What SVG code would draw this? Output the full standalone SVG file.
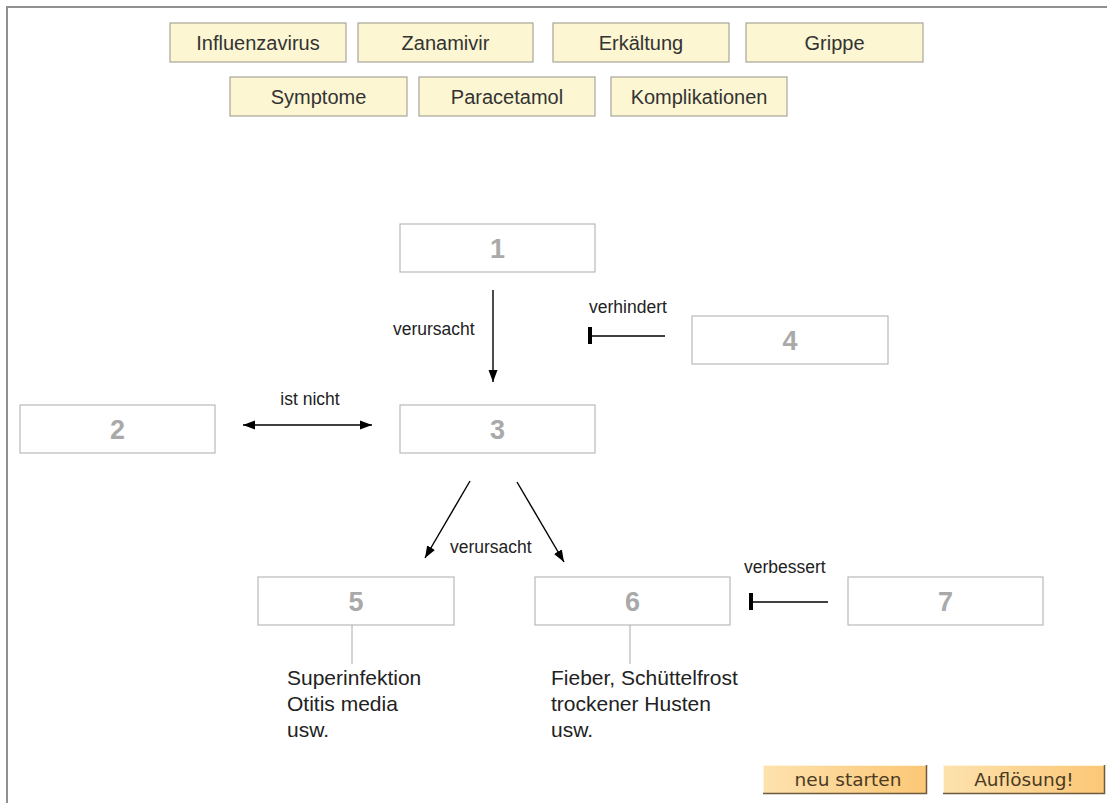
<svg xmlns="http://www.w3.org/2000/svg" width="1107" height="803" viewBox="0 0 1107 803">
  <defs>
    <marker id="arrow" viewBox="0 0 12 10" refX="12" refY="5" markerWidth="12" markerHeight="10" markerUnits="userSpaceOnUse" orient="auto-start-reverse">
      <path d="M0,0.5 L12,5 L0,9.5 Z" fill="#000"/>
    </marker>
    <linearGradient id="btnFill" x1="0" y1="0" x2="1" y2="0">
      <stop offset="0" stop-color="#fde2ae"/>
      <stop offset="1" stop-color="#fcc776"/>
    </linearGradient>
    <style>
      .frame { stroke: #909090; stroke-width: 2; fill: none; }
      .tile rect { fill: #fcf6d2; stroke: #a9a59a; stroke-width: 1.2; }
      .tile text { font-family: "Liberation Sans", Arial, sans-serif; font-size: 20px; fill: #333; text-anchor: middle; }
      .node rect { fill: #fff; stroke: #b9b9b9; stroke-width: 1.2; }
      .node text { font-family: "Liberation Sans", Arial, sans-serif; font-size: 27px; font-weight: bold; fill: #a9a9a9; text-anchor: middle; }
      .edge { stroke: #000; stroke-width: 1.4; fill: none; }
      .bar { stroke: #000; stroke-width: 4; }
      .tick { stroke: #aaa; stroke-width: 1; }
      .lbl { font-family: "Liberation Sans", Arial, sans-serif; font-size: 17.5px; fill: #222; }
      .note { font-family: "Liberation Sans", Arial, sans-serif; font-size: 21px; fill: #222; }
      .btn .hi { stroke: #fff3dc; stroke-width: 1; fill: none; }
      .btn .lo { stroke: #6e5a3c; stroke-width: 1.5; fill: none; }
      .btn text { font-family: "DejaVu Sans", Verdana, sans-serif; font-size: 18.5px; fill: #4a3a24; text-anchor: middle; }
    </style>
  </defs>

  <rect width="1107" height="803" fill="#fff"/>
  <!-- outer frame: top and left edges only -->
  <path class="frame" d="M7,803 V7 H1107"/>

  <!-- term tiles -->
  <g id="tile-influenzavirus" class="tile"><rect x="170" y="23" width="176" height="39"/><text x="258" y="50">Influenzavirus</text></g>
  <g id="tile-zanamivir" class="tile"><rect x="358" y="23" width="175" height="39"/><text x="445.5" y="50">Zanamivir</text></g>
  <g id="tile-erkaeltung" class="tile"><rect x="553" y="23" width="176" height="39"/><text x="641" y="50">Erkältung</text></g>
  <g id="tile-grippe" class="tile"><rect x="746" y="23" width="177" height="39"/><text x="834.5" y="50">Grippe</text></g>
  <g id="tile-symptome" class="tile"><rect x="230" y="77" width="177" height="39"/><text x="318.5" y="104">Symptome</text></g>
  <g id="tile-paracetamol" class="tile"><rect x="419" y="77" width="176" height="39"/><text x="507" y="104">Paracetamol</text></g>
  <g id="tile-komplikationen" class="tile"><rect x="611" y="77" width="176" height="39"/><text x="699" y="104">Komplikationen</text></g>

  <!-- numbered slots -->
  <g id="node-1" class="node"><rect x="400" y="224" width="195" height="48"/><text x="497.5" y="258">1</text></g>
  <g id="node-4" class="node"><rect x="692" y="316" width="196" height="48"/><text x="790" y="350">4</text></g>
  <g id="node-2" class="node"><rect x="20" y="405" width="195" height="48"/><text x="117.5" y="439">2</text></g>
  <g id="node-3" class="node"><rect x="400" y="405" width="195" height="48"/><text x="497.5" y="439">3</text></g>
  <g id="node-5" class="node"><rect x="258" y="577" width="196" height="48"/><text x="356" y="611">5</text></g>
  <g id="node-6" class="node"><rect x="535" y="577" width="195" height="48"/><text x="632.5" y="611">6</text></g>
  <g id="node-7" class="node"><rect x="848" y="577" width="195" height="48"/><text x="945.5" y="611">7</text></g>

  <!-- connectors -->
  <g id="connectors">
    <line class="edge" x1="493" y1="290" x2="493" y2="382" marker-end="url(#arrow)"/>
    <text class="lbl" x="393" y="335">verursacht</text>

    <line class="edge" x1="665" y1="336" x2="590" y2="336"/>
    <line class="bar" x1="590" y1="327" x2="590" y2="344"/>
    <text class="lbl" x="589" y="313">verhindert</text>

    <line class="edge" x1="243" y1="425" x2="372" y2="425" marker-start="url(#arrow)" marker-end="url(#arrow)"/>
    <text class="lbl" x="310" y="405" text-anchor="middle">ist nicht</text>

    <line class="edge" x1="470" y1="481" x2="425" y2="558" marker-end="url(#arrow)"/>
    <line class="edge" x1="517" y1="482" x2="564" y2="562" marker-end="url(#arrow)"/>
    <text class="lbl" x="450" y="553">verursacht</text>

    <line class="edge" x1="828" y1="602" x2="751" y2="602"/>
    <line class="bar" x1="751" y1="593" x2="751" y2="610"/>
    <text class="lbl" x="744" y="573">verbessert</text>

    <line class="tick" x1="352" y1="625" x2="352" y2="664"/>
    <line class="tick" x1="630" y1="625" x2="630" y2="664"/>
  </g>

  <!-- notes below slots 5 and 6 -->
  <g id="note-5" class="note">
    <text x="287" y="685">Superinfektion</text>
    <text x="287" y="711">Otitis media</text>
    <text x="287" y="737">usw.</text>
  </g>
  <g id="note-6" class="note">
    <text x="551" y="685">Fieber, Schüttelfrost</text>
    <text x="551" y="711">trockener Husten</text>
    <text x="551" y="737">usw.</text>
  </g>

  <!-- buttons -->
  <g id="btn-neu-starten" class="btn">
    <rect x="763" y="765" width="164" height="29" fill="url(#btnFill)"/>
    <path class="hi" d="M763.5,794 V765.5 H927"/>
    <path class="lo" d="M763,793.5 H926.5 V765"/>
    <text x="848" y="786">neu starten</text>
  </g>
  <g id="btn-aufloesung" class="btn">
    <rect x="943" y="765" width="162" height="29" fill="url(#btnFill)"/>
    <path class="hi" d="M943.5,794 V765.5 H1105"/>
    <path class="lo" d="M943,793.5 H1104.5 V765"/>
    <text x="1024" y="786">Auflösung!</text>
  </g>
</svg>
